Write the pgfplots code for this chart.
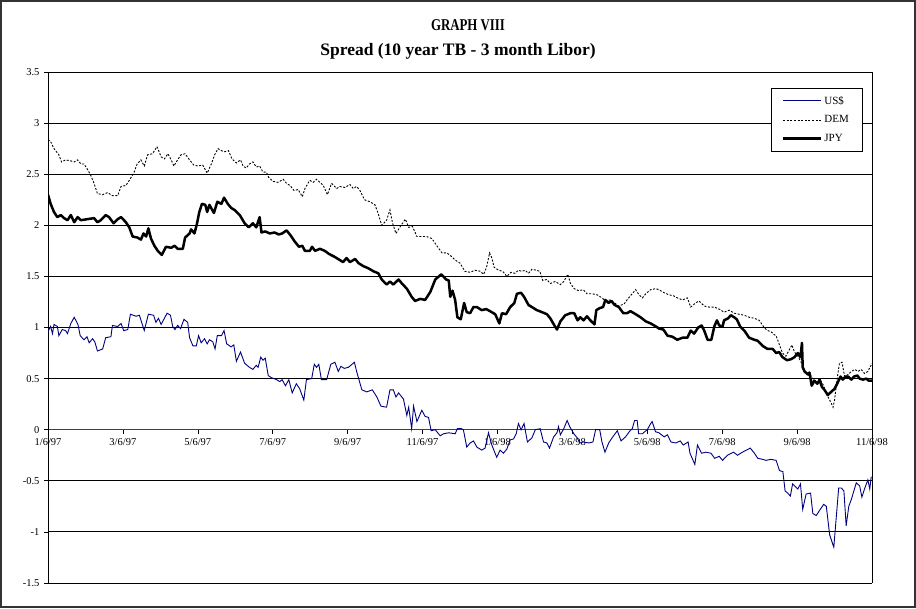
\documentclass[border=0pt]{standalone}
\usepackage{fontspec}
\setmainfont{Liberation Serif}
\usepackage{pgfplots}
\pgfplotsset{compat=1.18}
\definecolor{usd}{RGB}{0,0,128}
\begin{document}
\begin{tikzpicture}
\useasboundingbox (0,0) rectangle (916pt,608pt);
\draw[line width=1.2pt, black!80] (1pt,1pt) rectangle (915pt,607pt);
\node[font=\fontsize{16.5}{18}\selectfont\bfseries, xscale=0.78] at (468pt,583pt) {GRAPH VIII};
\node[font=\fontsize{17.5}{19}\selectfont\bfseries] at (458pt,557pt) {Spread (10 year TB - 3 month Libor)};
\begin{axis}[
  at={(48pt,25pt)}, anchor=south west,
  scale only axis, width=824pt, height=511pt,
  xmin=0, xmax=22, ymin=-1.5, ymax=3.5,
  axis x line=middle, axis y line=box,
  x axis line style={-, line width=0.9pt, black!75},
  y axis line style={line width=1pt},
  hide obscured x ticks=false, hide obscured y ticks=false,
  xtick={0,2,...,22},
  xticklabels={1/6/97,3/6/97,5/6/97,7/6/97,9/6/97,11/6/97,1/6/98,3/6/98,5/6/98,7/6/98,9/6/98,11/6/98},
  ytick={-1.5,-1,...,3.5},
  yticklabels={-1.5,-1,-0.5,0,0.5,1,1.5,2,2.5,3,3.5},
  ytick pos=left,
  tick align=outside, major tick length=4pt,
  tick style={black, line width=0.6pt},
  ymajorgrids, grid style={black, line width=0.8pt},
  tick label style={font=\fontsize{10.5}{12}\selectfont},
  xticklabel style={yshift=-1pt},
  yticklabel style={xshift=-1pt},
  legend style={at={(rel axis cs:0.988,0.969)}, anchor=north east, draw=black, line width=0.6pt,
    font=\fontsize{11}{12}\selectfont, row sep=6pt, inner xsep=11pt, inner ysep=6pt},
  legend cell align=left,
  legend image code/.code={\draw[#1] (0pt,0pt) -- (38pt,0pt);},
]
\addplot[usd, line width=0.9pt] coordinates {
(0.00,0.96)(0.07,1.01)(0.12,0.94)(0.16,1.03)(0.25,1.01)(0.29,0.92)(0.38,0.98)(0.47,0.97)(0.52,0.94)(0.61,1.04)(0.70,1.10)(0.80,1.03)(0.86,0.92)(0.96,0.88)(1.04,0.91)(1.10,0.85)(1.19,0.89)(1.25,0.86)(1.32,0.77)(1.46,0.79)(1.54,0.90)(1.68,0.91)(1.72,1.02)(1.86,1.01)(1.95,1.04)(2.02,0.97)(2.13,0.98)(2.20,1.13)(2.35,1.11)(2.44,1.12)(2.57,0.97)(2.68,1.13)(2.82,1.12)(2.88,1.05)(2.95,1.09)(3.02,1.03)(3.18,1.14)(3.27,1.12)(3.33,1.01)(3.39,0.98)(3.46,1.02)(3.54,0.99)(3.63,1.08)(3.73,1.05)(3.78,0.90)(3.87,0.82)(3.96,0.82)(4.02,0.92)(4.09,0.85)(4.18,0.89)(4.25,0.84)(4.31,0.88)(4.40,0.86)(4.46,0.79)(4.52,0.92)(4.63,0.92)(4.70,0.97)(4.77,0.84)(4.89,0.81)(4.96,0.83)(5.03,0.67)(5.14,0.76)(5.25,0.65)(5.38,0.61)(5.47,0.59)(5.56,0.63)(5.61,0.61)(5.68,0.71)(5.74,0.68)(5.80,0.70)(5.88,0.53)(5.96,0.51)(6.10,0.49)(6.19,0.47)(6.25,0.49)(6.34,0.43)(6.43,0.49)(6.52,0.36)(6.63,0.45)(6.72,0.40)(6.83,0.29)(6.90,0.49)(7.04,0.50)(7.11,0.64)(7.17,0.61)(7.23,0.64)(7.30,0.49)(7.44,0.49)(7.55,0.64)(7.66,0.66)(7.75,0.57)(7.82,0.62)(7.91,0.60)(8.02,0.61)(8.18,0.66)(8.24,0.57)(8.38,0.39)(8.51,0.37)(8.66,0.39)(8.78,0.32)(8.89,0.23)(9.04,0.22)(9.13,0.39)(9.22,0.39)(9.29,0.32)(9.36,0.36)(9.49,0.30)(9.58,0.14)(9.63,0.22)(9.71,0.01)(9.76,0.23)(9.85,0.08)(9.98,0.19)(10.07,0.13)(10.16,0.12)(10.23,-0.01)(10.34,0.00)(10.47,-0.06)(10.56,-0.04)(10.70,-0.03)
(10.87,-0.04)(10.93,0.01)(11.04,0.01)(11.09,0.00)(11.18,-0.17)(11.27,-0.13)(11.36,-0.11)(11.45,-0.17)(11.58,-0.20)(11.67,-0.18)(11.76,-0.03)(11.85,-0.15)(11.98,-0.27)(12.07,-0.20)(12.16,-0.23)(12.25,-0.19)(12.34,-0.10)(12.43,-0.09)(12.50,-0.04)(12.56,0.06)(12.63,0.00)(12.71,0.06)(12.80,-0.12)(12.92,-0.08)(13.01,0.00)(13.14,0.01)(13.23,-0.12)(13.32,-0.13)(13.39,-0.18)(13.50,-0.07)(13.59,-0.03)(13.63,0.03)(13.68,-0.05)(13.77,0.01)(13.86,0.09)(13.93,0.03)(14.04,-0.04)(14.13,-0.08)(14.20,-0.13)(14.30,-0.12)(14.44,-0.13)(14.55,-0.12)(14.62,0.00)(14.73,0.00)(14.79,-0.12)(14.87,-0.22)(14.97,-0.13)(15.06,-0.08)(15.20,-0.01)(15.30,-0.11)(15.42,-0.07)(15.54,-0.01)(15.60,0.01)(15.66,0.09)(15.73,0.09)(15.77,-0.04)(15.87,-0.04)(15.93,-0.02)(16.00,0.00)(16.09,0.06)(16.13,0.08)(16.22,-0.02)(16.31,-0.03)(16.45,-0.07)(16.54,-0.05)(16.63,-0.12)(16.76,-0.13)(16.88,-0.11)(16.96,-0.15)(17.09,-0.12)(17.14,-0.23)(17.27,-0.34)(17.34,-0.15)(17.45,-0.23)(17.56,-0.22)(17.70,-0.23)(17.80,-0.28)(17.92,-0.26)(18.01,-0.30)(18.14,-0.25)(18.30,-0.22)(18.41,-0.25)(18.54,-0.22)(18.75,-0.18)(18.86,-0.23)(18.95,-0.28)(19.08,-0.29)(19.17,-0.30)(19.30,-0.29)(19.44,-0.30)(19.53,-0.40)(19.62,-0.41)(19.68,-0.60)(19.75,-0.62)(19.82,-0.65)(19.88,-0.53)(20.02,-0.58)(20.09,-0.53)(20.15,-0.78)(20.24,-0.63)(20.36,-0.62)(20.42,-0.82)(20.51,-0.84)(20.60,-0.79)(20.71,-0.73)(20.78,-0.75)(20.87,-1.03)(20.98,-1.15)(21.11,-0.57)(21.18,-0.57)(21.25,-0.60)(21.31,-0.94)(21.38,-0.75)(21.45,-0.68)(21.58,-0.52)(21.67,-0.55)(21.73,-0.66)(21.80,-0.58)(21.89,-0.49)(21.94,-0.58)(21.98,-0.46)
};
\addlegendentry{US\$}
\addplot[black, line width=0.9pt, dash pattern=on 2pt off 1.6pt] coordinates {
(0.00,2.84)(0.07,2.82)(0.16,2.75)(0.29,2.69)(0.36,2.62)(0.47,2.64)(0.61,2.63)(0.70,2.62)(0.79,2.64)(0.88,2.60)(0.96,2.60)(1.05,2.55)(1.14,2.49)(1.23,2.41)(1.32,2.31)(1.46,2.30)(1.59,2.32)(1.72,2.29)(1.86,2.29)(1.95,2.38)(2.08,2.39)(2.17,2.44)(2.29,2.51)(2.38,2.60)(2.48,2.64)(2.57,2.58)(2.66,2.69)(2.79,2.70)(2.91,2.77)(3.02,2.67)(3.11,2.65)(3.20,2.70)(3.29,2.64)(3.36,2.58)(3.46,2.64)(3.55,2.69)(3.66,2.70)(3.78,2.64)(3.89,2.59)(4.00,2.58)(4.13,2.59)(4.25,2.51)(4.36,2.60)(4.45,2.69)(4.54,2.75)(4.63,2.73)(4.71,2.72)(4.82,2.73)(4.91,2.65)(5.03,2.61)(5.14,2.64)(5.21,2.58)(5.29,2.56)(5.38,2.60)(5.47,2.62)(5.56,2.57)(5.65,2.58)(5.74,2.52)(5.83,2.52)(5.89,2.47)(6.01,2.43)(6.14,2.42)(6.28,2.45)(6.37,2.41)(6.46,2.39)(6.57,2.34)(6.68,2.35)(6.79,2.28)(6.86,2.36)(6.99,2.44)(7.08,2.42)(7.17,2.45)(7.26,2.42)(7.35,2.39)(7.46,2.30)(7.57,2.41)(7.71,2.36)(7.79,2.38)(7.93,2.37)(8.06,2.40)(8.15,2.36)(8.24,2.38)(8.33,2.34)(8.45,2.25)(8.60,2.23)(8.73,2.20)(8.82,2.11)(8.91,2.00)(9.04,2.05)(9.13,2.15)(9.20,2.02)(9.29,1.92)(9.41,1.99)(9.54,2.06)(9.63,1.98)(9.73,1.99)(9.85,1.89)(9.98,1.89)(10.11,1.89)(10.25,1.87)(10.38,1.80)(10.52,1.73)(10.65,1.73)(10.79,1.69)
(10.87,1.66)(11.00,1.63)(11.13,1.55)(11.27,1.54)(11.40,1.56)(11.54,1.55)(11.63,1.52)(11.71,1.59)(11.79,1.73)(11.85,1.68)(11.91,1.59)(12.03,1.56)(12.14,1.55)(12.25,1.50)(12.36,1.54)(12.47,1.53)(12.56,1.56)(12.65,1.55)(12.74,1.56)(12.83,1.53)(12.92,1.57)(13.04,1.56)(13.13,1.55)(13.21,1.46)(13.32,1.47)(13.41,1.43)(13.54,1.45)(13.68,1.42)(13.77,1.45)(13.88,1.52)(13.95,1.43)(14.05,1.38)(14.17,1.36)(14.29,1.37)(14.39,1.33)(14.53,1.33)(14.66,1.32)(14.79,1.29)(14.88,1.26)(15.02,1.27)(15.13,1.24)(15.24,1.21)(15.38,1.23)(15.46,1.27)(15.55,1.31)(15.69,1.37)(15.78,1.32)(15.87,1.29)(15.96,1.33)(16.09,1.37)(16.23,1.38)(16.31,1.37)(16.45,1.34)(16.58,1.32)(16.70,1.31)(16.80,1.29)(16.94,1.27)(17.07,1.29)(17.16,1.20)(17.29,1.24)(17.38,1.26)(17.52,1.21)(17.65,1.20)(17.79,1.20)(17.92,1.18)(18.05,1.15)(18.19,1.17)(18.32,1.14)(18.45,1.13)(18.59,1.12)(18.72,1.10)(18.86,1.09)(18.99,1.07)(19.12,1.00)(19.21,0.97)(19.30,0.96)(19.39,0.93)(19.44,0.92)(19.52,0.84)(19.61,0.75)(19.70,0.72)(19.79,0.78)(19.86,0.83)(19.93,0.76)(20.02,0.72)(20.15,0.63)(20.21,0.56)(20.33,0.55)(20.42,0.50)(20.54,0.46)(20.63,0.48)(20.71,0.43)(20.78,0.35)(20.87,0.29)(20.96,0.22)(21.00,0.29)(21.07,0.50)(21.13,0.65)(21.20,0.66)(21.27,0.52)(21.36,0.54)(21.45,0.57)(21.54,0.59)(21.63,0.57)(21.71,0.59)(21.80,0.55)(21.89,0.57)(22.00,0.65)
};
\addlegendentry{DEM}
\addplot[black, line width=2.5pt, line join=round] coordinates {
(0.00,2.30)(0.07,2.21)(0.16,2.13)(0.25,2.08)(0.34,2.10)(0.43,2.07)(0.52,2.05)(0.61,2.10)(0.70,2.03)(0.79,2.08)(0.88,2.05)(1.05,2.06)(1.23,2.07)(1.32,2.03)(1.41,2.05)(1.54,2.10)(1.63,2.08)(1.75,2.02)(1.86,2.06)(1.95,2.08)(2.08,2.03)(2.17,1.98)(2.26,1.89)(2.39,1.88)(2.48,1.86)(2.55,1.92)(2.62,1.89)(2.68,1.97)(2.75,1.87)(2.84,1.80)(2.93,1.75)(3.04,1.71)(3.15,1.79)(3.29,1.78)(3.38,1.80)(3.46,1.77)(3.60,1.77)(3.66,1.88)(3.78,1.92)(3.82,1.96)(3.91,1.92)(3.98,2.02)(4.04,2.13)(4.11,2.21)(4.20,2.20)(4.25,2.13)(4.31,2.20)(4.43,2.12)(4.52,2.23)(4.63,2.21)(4.70,2.27)(4.80,2.21)(4.89,2.17)(4.98,2.15)(5.12,2.10)(5.25,2.02)(5.36,1.98)(5.47,2.02)(5.56,1.98)(5.65,2.08)(5.70,1.93)(5.80,1.94)(5.92,1.92)(6.05,1.93)(6.16,1.91)(6.25,1.92)(6.37,1.95)(6.48,1.90)(6.59,1.84)(6.70,1.79)(6.79,1.80)(6.86,1.75)(6.99,1.75)(7.05,1.79)(7.13,1.75)(7.26,1.77)(7.39,1.75)(7.50,1.72)(7.66,1.69)(7.79,1.66)(7.88,1.64)(7.97,1.68)(8.06,1.64)(8.20,1.67)(8.29,1.63)(8.42,1.60)(8.55,1.58)(8.69,1.55)(8.82,1.53)(8.91,1.47)(9.04,1.42)(9.13,1.45)(9.22,1.42)(9.36,1.47)(9.45,1.43)(9.58,1.38)(9.71,1.30)(9.80,1.26)(9.94,1.28)(10.07,1.27)(10.21,1.35)(10.34,1.47)(10.50,1.52)(10.63,1.47)(10.70,1.46)(10.74,1.30)(10.80,1.36)
(10.87,1.27)(10.93,1.10)(11.02,1.08)(11.11,1.24)(11.18,1.15)(11.27,1.14)(11.36,1.20)(11.45,1.20)(11.58,1.17)(11.70,1.18)(11.80,1.16)(11.94,1.13)(12.05,1.04)(12.12,1.14)(12.23,1.13)(12.34,1.20)(12.45,1.24)(12.52,1.33)(12.63,1.34)(12.71,1.30)(12.83,1.22)(12.92,1.20)(13.05,1.17)(13.19,1.15)(13.32,1.13)(13.41,1.09)(13.52,1.02)(13.59,0.98)(13.68,1.06)(13.81,1.12)(13.95,1.14)(14.05,1.14)(14.14,1.07)(14.21,1.10)(14.30,1.07)(14.39,1.11)(14.48,1.07)(14.59,1.03)(14.64,1.17)(14.73,1.19)(14.82,1.20)(14.88,1.27)(14.97,1.24)(15.04,1.26)(15.13,1.22)(15.24,1.20)(15.36,1.14)(15.46,1.14)(15.55,1.16)(15.69,1.13)(15.82,1.10)(15.96,1.06)(16.09,1.04)(16.23,1.01)(16.31,0.99)(16.43,0.98)(16.54,0.92)(16.67,0.91)(16.80,0.88)(16.94,0.90)(17.07,0.90)(17.16,0.97)(17.25,0.94)(17.36,1.00)(17.45,1.02)(17.52,0.97)(17.61,0.88)(17.71,0.88)(17.79,1.01)(17.86,1.07)(17.92,1.02)(18.01,1.01)(18.05,1.07)(18.16,1.09)(18.23,1.12)(18.32,1.10)(18.39,1.08)(18.48,1.01)(18.59,0.97)(18.72,0.90)(18.86,0.88)(18.95,0.87)(19.08,0.82)(19.21,0.79)(19.35,0.79)(19.44,0.75)(19.52,0.76)(19.61,0.71)(19.73,0.68)(19.84,0.69)(19.93,0.71)(20.02,0.75)(20.09,0.71)(20.13,0.85)(20.15,0.61)(20.20,0.57)(20.29,0.54)(20.33,0.56)(20.39,0.43)(20.46,0.48)(20.54,0.45)(20.60,0.49)(20.66,0.42)(20.73,0.39)(20.82,0.34)(20.91,0.37)(21.00,0.40)(21.07,0.45)(21.16,0.52)(21.22,0.49)(21.29,0.52)(21.36,0.52)(21.45,0.49)(21.52,0.52)(21.61,0.53)(21.67,0.50)(21.76,0.49)(21.85,0.50)(21.91,0.48)(22.00,0.48)
};
\addlegendentry{JPY}
\end{axis}
\end{tikzpicture}
\end{document}
